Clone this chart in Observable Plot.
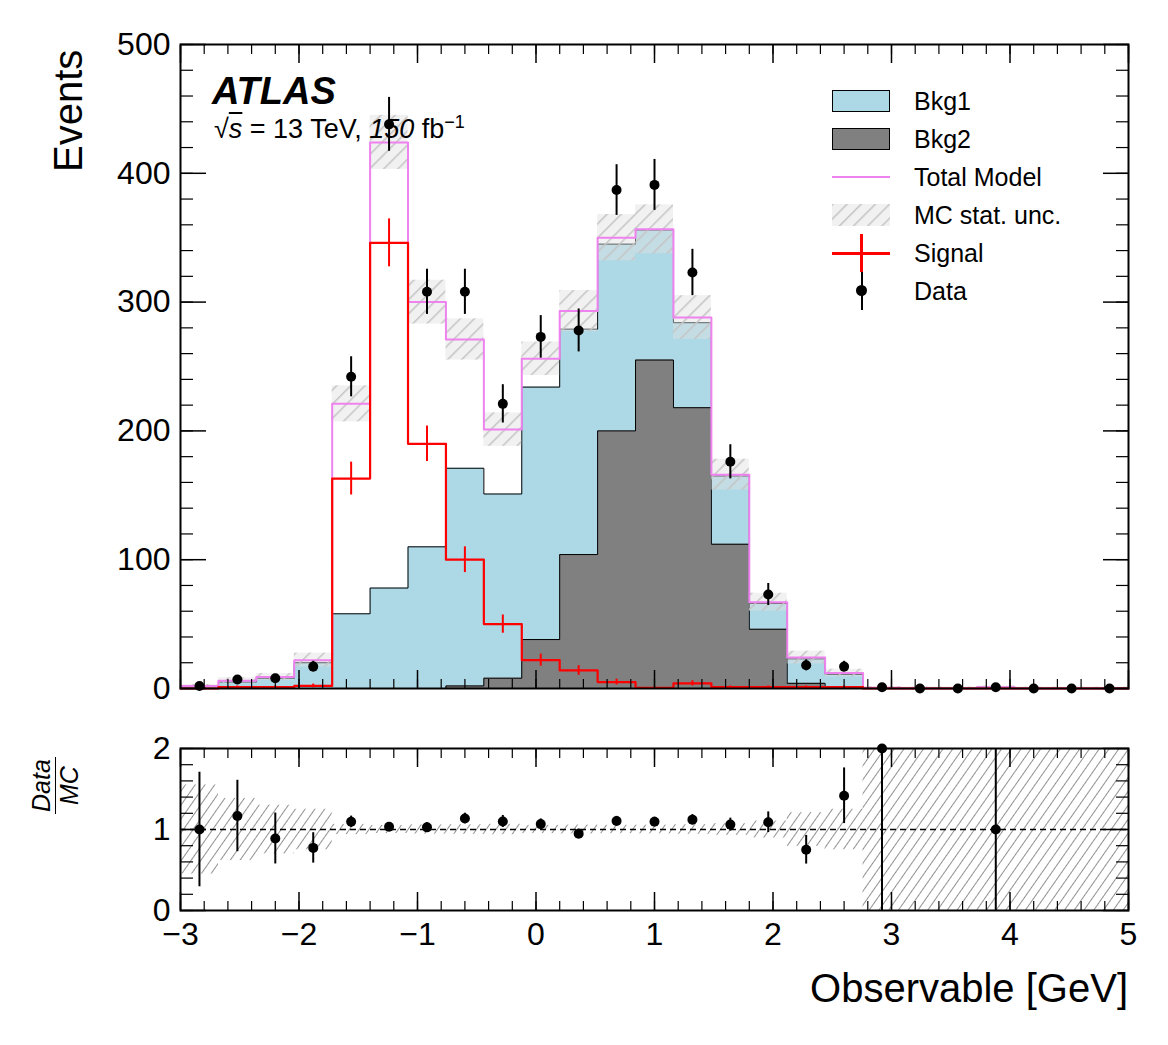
<!DOCTYPE html>
<html><head><meta charset="utf-8">
<script src="https://cdn.jsdelivr.net/npm/d3@7"></script>
<script src="https://cdn.jsdelivr.net/npm/@observablehq/plot@0.6"></script>
<style>
body{margin:0;background:#fff;font-family:"Liberation Sans",Arial,sans-serif;}
#wrap{position:relative;width:1168px;height:1045px;}
.ov{position:absolute;white-space:nowrap;color:#000;}
.leg{position:absolute;left:832px;font-size:25px;}
.leg div{position:relative;height:38px;width:300px;}
.sw{position:absolute;left:0;top:0;width:58px;height:22px;box-sizing:border-box;}
.lt{position:absolute;left:82px;top:-3px;white-space:nowrap;}
</style></head><body>
<div id="wrap"></div>
<script>
const edges = d3.range(26).map(i => -3 + 0.32 * i);
const bkg2 =  [0,0,0,0,0,0,0,2,8,38,104,200,255,218,112,46,4,1,0,0,0,0,0,0,0];
const bkgTop = [2,5,8,20,58,78,110,171,151,234,279,345,356,284,165,66,23,11,0.5,0.2,0.2,1,0.1,0.1,0.1];
const signal = [0,1,1,2,163,346,190,100,50,22,14,5,0.5,4,1,1,1,1,0,0,0,0,0,0,0];
const data =   [2,7,8,17,242,438,308,308,221,273,278,387,391,323,176,73,18,17,1,0,0,1,0,0,0];
const mcUnc =  [1.1,2.3,2.7,5.5,14,21,17,16,13,13,16,18,19,17,12,7,5,3,1,1,1,1,1,1,1];
const xMajor = [-3,-2,-1,0,1,2,3,4,5];
const xMinor = d3.range(-3,5.001,0.2);
const yMajor = [0,100,200,300,400,500];
const yMinor = d3.range(0,501,20);
const rMajor = [0,1,2];
const rMinor = d3.range(0,2.001,0.2);

const bins = edges.slice(0,25).map((x1,i) => {
  const total = bkgTop[i] + signal[i];
  return {x1, x2: edges[i+1], xc: x1 + 0.16, bkg2: bkg2[i], bkgTop: bkgTop[i], signal: signal[i],
    total, data: data[i], unc: mcUnc[i], ratio: data[i] / total,
    rerr: Math.sqrt(data[i]) / total, runc: mcUnc[i] / total};
});
const stepData = key => [...bins.map(b => ({x: b.x1, y: b[key]})), {x: 5, y: bins[24][key]}];
const font = '"Liberation Sans",Arial,sans-serif';
const blank = () => "";

function ticksMarks(maj, min, majR, minR) {
  return [
    Plot.axisX({anchor:"bottom", ticks: maj, tickSize:-18, strokeWidth:1.5, tickFormat: blank, label:null}),
    Plot.axisX({anchor:"bottom", ticks: min, tickSize:-9, strokeWidth:1.2, tickFormat: blank, label:null}),
    Plot.axisX({anchor:"top", ticks: maj, tickSize:-18, strokeWidth:1.5, tickFormat: blank, label:null}),
    Plot.axisX({anchor:"top", ticks: min, tickSize:-9, strokeWidth:1.2, tickFormat: blank, label:null}),
    Plot.axisY({anchor:"left", ticks: majR, tickSize:-26, strokeWidth:1.5, tickFormat: blank, label:null}),
    Plot.axisY({anchor:"left", ticks: minR, tickSize:-13, strokeWidth:1.2, tickFormat: blank, label:null}),
    Plot.axisY({anchor:"right", ticks: majR, tickSize:-26, strokeWidth:1.5, tickFormat: blank, label:null}),
    Plot.axisY({anchor:"right", ticks: minR, tickSize:-13, strokeWidth:1.2, tickFormat: blank, label:null}),
    Plot.axisY({ticks: majR, tickSize:0, tickPadding:10, fontSize:32, label:null, anchor:"left", tickFormat: d => String(d)}),
    Plot.frame({stroke:"#000", strokeWidth:2})
  ];
}
function addDefs(svg) {
  const defs = d3.select(svg).insert("defs", ":first-child");
  const p1 = defs.append("pattern").attr("id","hatchL").attr("patternUnits","userSpaceOnUse")
    .attr("width",10).attr("height",10).attr("patternTransform","rotate(45)");
  p1.append("rect").attr("width",10).attr("height",10).attr("fill","rgba(225,225,225,0.45)");
  p1.append("line").attr("x1",0).attr("y1",0).attr("x2",0).attr("y2",10).attr("stroke","#c4c4c4").attr("stroke-width",3);
  const p2 = defs.append("pattern").attr("id","hatchD").attr("patternUnits","userSpaceOnUse")
    .attr("width",8).attr("height",8).attr("patternTransform","rotate(35)");
  p2.append("line").attr("x1",0).attr("y1",0).attr("x2",0).attr("y2",8).attr("stroke","#555").attr("stroke-width",1.3);
}

const main = Plot.plot({
  width:1168, height:700, marginLeft:180, marginRight:40, marginTop:44, marginBottom:12,
  style:{fontFamily:font, fontSize:"32px", color:"#000", overflow:"visible"},
  x:{domain:[-3,5], axis:null},
  y:{domain:[0,500], axis:null},
  marks:[
    Plot.areaY(stepData("bkgTop"), {x:"x", y:"y", curve:"step-after", fill:"#add8e6"}),
    Plot.lineY(stepData("bkgTop"), {x:"x", y:"y", curve:"step-after", stroke:"#000", strokeWidth:1}),
    Plot.areaY(stepData("bkg2"), {x:"x", y:"y", curve:"step-after", fill:"#808080"}),
    Plot.lineY(stepData("bkg2"), {x:"x", y:"y", curve:"step-after", stroke:"#000", strokeWidth:1}),
    Plot.rect(bins, {x1:"x1", x2:"x2", y1: d => Math.max(0, d.total - d.unc), y2: d => d.total + d.unc, fill:"url(#hatchL)"}),
    Plot.lineY(stepData("total"), {x:"x", y:"y", curve:"step-after", stroke:"#ee82ee", strokeWidth:2}),
    Plot.lineY(stepData("signal"), {x:"x", y:"y", curve:"step-after", stroke:"#ff0000", strokeWidth:2.2}),
    Plot.ruleX(bins.filter(b => b.signal > 0), {x:"xc", y1: d => d.signal - Math.sqrt(d.signal), y2: d => d.signal + Math.sqrt(d.signal), stroke:"#ff0000", strokeWidth:2}),
    Plot.ruleX(bins, {x:"xc", y1: d => d.data - Math.sqrt(d.data), y2: d => d.data + Math.sqrt(d.data), stroke:"#000", strokeWidth:2}),
    Plot.dot(bins, {x:"xc", y:"data", r:5, fill:"#000"}),
    ...ticksMarks(xMajor, xMinor, yMajor, yMinor)
  ]
});
addDefs(main);

const ratioBins = bins.filter(b => b.data > 0);
const ratio = Plot.plot({
  width:1168, height:345, marginLeft:180, marginRight:40, marginTop:48, marginBottom:135,
  style:{fontFamily:font, fontSize:"32px", color:"#000", overflow:"visible"},
  x:{domain:[-3,5], axis:null},
  y:{domain:[0,2], axis:null},
  marks:[
    Plot.rect(bins, {x1:"x1", x2:"x2", y1: d => Math.max(0, 1 - d.runc), y2: d => Math.min(2, 1 + d.runc), fill:"url(#hatchD)"}),
    Plot.ruleY([1], {stroke:"#000", strokeWidth:1.5, strokeDasharray:"6,4"}),
    Plot.ruleX(ratioBins, {x:"xc", y1: d => Math.max(0, d.ratio - d.rerr), y2: d => Math.min(2, d.ratio + d.rerr), stroke:"#000", strokeWidth:2}),
    Plot.dot(ratioBins, {x:"xc", y:"ratio", r:5, fill:"#000"}),
    ...ticksMarks(xMajor, xMinor, rMajor, rMinor),
    Plot.axisX({ticks: xMajor, tickSize:0, tickPadding:12, fontSize:32, label:null, anchor:"bottom", tickFormat: d => d < 0 ? "\u2212" + Math.abs(d) : String(d)})
  ]
});
addDefs(ratio);

const wrap = document.getElementById("wrap");
main.style.position = "absolute"; main.style.left = "0"; main.style.top = "0";
ratio.style.position = "absolute"; ratio.style.left = "0"; ratio.style.top = "700px";
wrap.appendChild(main); wrap.appendChild(ratio);

const html = `
<div class="ov" style="left:46px;top:44px;font-size:40px;transform-origin:0 0;transform:translate(0,128px) rotate(-90deg);">Events</div>
<div class="ov" style="left:212px;top:70px;font-size:38px;font-weight:bold;font-style:italic;">ATLAS</div>
<div class="ov" style="left:214px;top:112px;font-size:27px;">&#8730;<span style="text-decoration:overline;font-style:italic;">s</span> = 13 TeV, <i>150</i> fb<sup style="font-size:18px;">&#8722;1</sup></div>
<div class="ov" style="left:700px;top:966px;width:428px;text-align:right;font-size:40px;">Observable [GeV]</div>
<div class="ov" style="left:28px;top:760px;font-size:25px;font-style:italic;text-align:center;transform-origin:0 0;transform:translate(0,54px) rotate(-90deg);">
  <div style="border-bottom:1.5px solid #000;line-height:27px;padding:0 2px;">Data</div><div style="line-height:27px;">MC</div></div>
<div class="leg" style="top:90px;">
  <div><span class="sw" style="background:#add8e6;border:1px solid #000;"></span><span class="lt">Bkg1</span></div>
  <div><span class="sw" style="background:#808080;border:1px solid #000;"></span><span class="lt">Bkg2</span></div>
  <div><span class="sw" style="height:2px;top:10px;background:#ee82ee;"></span><span class="lt">Total Model</span></div>
  <div><svg class="sw" style="overflow:hidden"><rect width="58" height="22" fill="url(#hatchL)"/></svg><span class="lt">MC stat. unc.</span></div>
  <div><span class="sw" style="height:3px;top:10px;background:#f00;"></span><span class="sw" style="width:3px;left:28px;top:-8px;height:38px;background:#f00;"></span><span class="lt">Signal</span></div>
  <div><span class="sw" style="width:2px;left:29px;top:-8px;height:38px;background:#000;"></span><span class="sw" style="width:11px;height:11px;left:24px;top:5px;border-radius:50%;background:#000;"></span><span class="lt">Data</span></div>
</div>`;
wrap.insertAdjacentHTML("beforeend", html);
</script>
</body></html>
